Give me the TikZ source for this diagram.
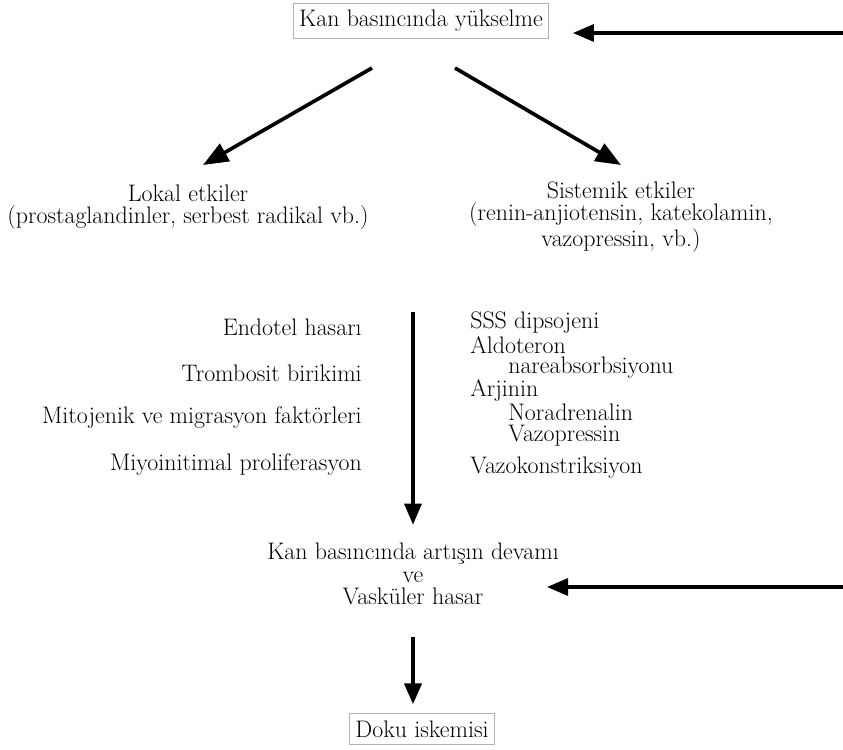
\documentclass[tikz,border=0pt]{standalone}
\usepackage{tikz}
\usetikzlibrary{arrows.meta, positioning}

\begin{document}
\begin{tikzpicture}[
  x=0.025cm, y=-0.025cm,
  txt/.style={font=\fontsize{17}{16}\selectfont, inner sep=0pt, align=center},
  rbox/.style={txt, draw=black!30, line width=0.5pt, inner xsep=4pt, inner ysep=5pt},
  arr/.style={line width=2.6pt, -{Triangle[length=15pt, width=12pt]}},
  darr/.style={line width=2.6pt, -{Triangle[length=18pt, width=14pt]}}
]
\useasboundingbox (0,0) rectangle (843,750);

% top
\node[rbox] (rise) at (421,21) {Kan basıncında yükselme};
\coordinate (rin) at (843,33);
\draw[arr] (rin) -- ([xshift=0.6cm]rise.east |- rin);

% two kinds of effects
\node[txt] (lokal) at (188,207) {Lokal etkiler\\(prostaglandinler, serbest radikal vb.)};
\node[txt] (sist) at (621,217) {Sistemik etkiler\\(renin-anjiotensin, katekolamin,\\vazopressin, vb.)};
\coordinate (ls) at (372,68);
\coordinate (le) at (203,165);
\coordinate (ss) at (455,68);
\coordinate (se) at (621,165);
\draw[darr] (ls) -- (le);
\draw[darr] (ss) -- (se);

% middle arrow
\coordinate (mtop) at (413,312);
\node[txt] (cont) at (413,574) {Kan basıncında artışın devamı\\ve\\Vasküler hasar};
\draw[arr] (mtop) -- ([yshift=0.45cm]cont.north);

% local list
\foreach \y/\t [count=\i] in {327/Endotel hasarı, 373/Trombosit birikimi,
    418/Mitojenik ve migrasyon faktörleri, 465/Miyoinitimal proliferasyon}{
  \node[txt, anchor=east] (l\i) at (362,\y) {\t};
}

% systemic list
\foreach \x/\y/\t [count=\i] in {470/323/SSS dipsojeni, 470/345/Aldoteron,
    508/368/nareabsorbsiyonu, 470/390/Arjinin, 508/412/Noradrenalin,
    508/436/Vazopressin, 470/468/Vazokonstriksiyon}{
  \node[txt, anchor=west] (s\i) at (\x,\y) {\t};
}

% bottom feedback
\coordinate (rin2) at (843,587);
\draw[arr] (rin2) -- ([xshift=-0.3cm]cont.east |- rin2);

% ischemia
\node[rbox] (isk) at (422,729) {Doku iskemisi};
\coordinate (btop) at (413,637);
\draw[arr, line width=3.2pt] (btop) -- ([yshift=0.22cm]isk.north -| btop);

\end{tikzpicture}
\end{document}
